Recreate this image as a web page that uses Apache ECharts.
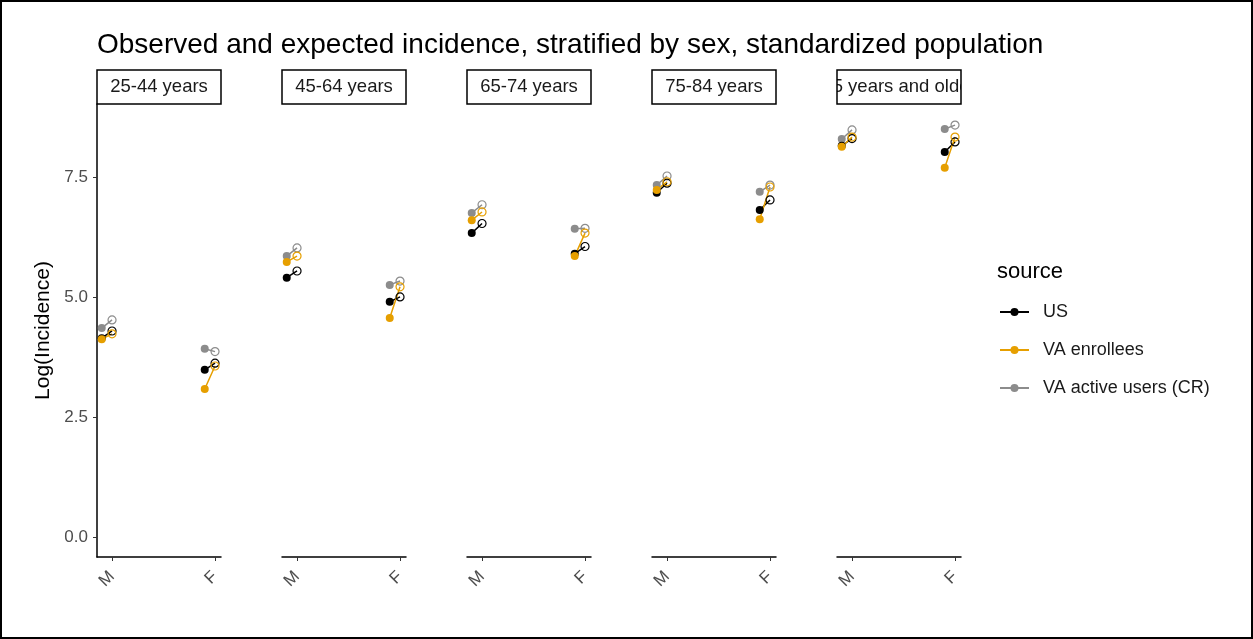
<!DOCTYPE html>
<html>
<head>
<meta charset="utf-8">
<script src="https://cdn.jsdelivr.net/npm/echarts@6/dist/echarts.min.js"></script>
<style>
  html, body { margin: 0; padding: 0; background: #fff; }
  #chart { width: 1253px; height: 639px; }
</style>
</head>
<body>
<div id="chart"></div>
<script>
// facets, x categories and sources
const ageGroups = ['25-44 years', '45-64 years', '65-74 years', '75-84 years', '85 years and older'];
const sexes = ['M', 'F'];
const sources = ['US', 'VA enrollees', 'VA active users (CR)'];
const sourceColors = ['#000000', '#E69F00', '#8c8c8c'];

// log incidence, per facet: M then F  (observed = filled, expected = open)
const usObserved = [4.14, 3.48, 5.40, 4.90, 6.33, 5.90, 7.17, 6.81, 8.15, 8.02];
const usExpected = [4.29, 3.62, 5.54, 5.00, 6.53, 6.05, 7.37, 7.02, 8.30, 8.23];
const vaObserved = [4.12, 3.08, 5.73, 4.56, 6.60, 5.85, 7.23, 6.62, 8.13, 7.69];
const vaExpected = [4.23, 3.56, 5.85, 5.21, 6.77, 6.33, 7.40, 7.29, 8.33, 8.33];
const crObserved = [4.35, 3.92, 5.85, 5.25, 6.75, 6.42, 7.33, 7.19, 8.29, 8.50];
const crExpected = [4.52, 3.86, 6.02, 5.33, 6.92, 6.43, 7.52, 7.33, 8.48, 8.58];

const yTicks = [0, 2.5, 5, 7.5];

const observed = [usObserved, vaObserved, crObserved];
const expected = [usExpected, vaExpected, crExpected];

const panelLeft = 97, panelPitch = 185, panelWidth = 124;
const panelTop = 104, panelHeight = 453;
const dodge = 0.1;

const chart = echarts.init(document.getElementById('chart'));

const grids = [], xAxes = [], yAxes = [], series = [], graphics = [];

ageGroups.forEach((age, p) => {
    const left = panelLeft + p * panelPitch;
    grids.push({ left: left, top: panelTop, width: panelWidth, height: panelHeight });
    xAxes.push({
        type: 'value',
        gridIndex: p,
        min: 0.854,
        max: 2.058,
        splitLine: { show: false },
        axisLine: { show: true, onZero: false, lineStyle: { color: '#000', width: 1.5 } },
        axisTick: { show: true, length: 4, lineStyle: { color: '#333' }, customValues: [1, 2] },
        axisLabel: {
            rotate: 45,
            margin: 17,
            color: '#4d4d4d',
            fontSize: 17,
            fontFamily: 'Liberation Sans',
            customValues: [1, 2],
            formatter: v => sexes[Math.round(v) - 1] || ''
        }
    });
    yAxes.push({
        type: 'value',
        gridIndex: p,
        min: -0.42,
        max: 9.02,
        show: p === 0,
        name: p === 0 ? 'Log(Incidence)' : '',
        nameLocation: 'middle',
        nameGap: 43,
        nameTextStyle: { fontSize: 21, color: '#000', fontFamily: 'Liberation Sans' },
        splitLine: { show: false },
        axisLine: { show: true, lineStyle: { color: '#000', width: 1.5 } },
        axisTick: { show: true, length: 4, lineStyle: { color: '#333' }, customValues: yTicks },
        axisLabel: {
            color: '#4d4d4d',
            fontSize: 17,
            margin: 9,
            fontFamily: 'Liberation Sans',
            customValues: yTicks,
            formatter: v => v.toFixed(1)
        }
    });

    // strip label
    graphics.push({
        type: 'text', z: 10,
        style: {
            x: left + panelWidth / 2, y: 87,
            text: age, align: 'center', verticalAlign: 'middle',
            fontSize: 18.5, fontFamily: 'Liberation Sans', fill: '#1a1a1a'
        }
    });
    graphics.push({ type: 'rect', z: 11, shape: { x: left - 40, y: 71, width: 40, height: 32 }, style: { fill: '#fff' } });
    graphics.push({ type: 'rect', z: 11, shape: { x: left + panelWidth, y: 71, width: 40, height: 32 }, style: { fill: '#fff' } });
    graphics.push({
        type: 'rect', z: 12,
        shape: { x: left, y: 70, width: panelWidth, height: 34 },
        style: { fill: 'none', stroke: '#000', lineWidth: 1.5 }
    });
});

// draw grey first, then black, then orange on top
[2, 0, 1].forEach(s => {
    const color = sourceColors[s];
    ageGroups.forEach((age, p) => {
        const data = [];
        sexes.forEach((sex, k) => {
            const i = p * 2 + k;
            const x = k + 1;
            if (k > 0) data.push([x - 0.5, '-']);
            data.push({ value: [x - dodge, observed[s][i]] });
            data.push({
                value: [x, expected[s][i]],
                itemStyle: { color: 'rgba(255,255,255,0)', borderColor: color, borderWidth: 1.2 }
            });
        });
        series.push({
            name: sources[s],
            type: 'line',
            xAxisIndex: p,
            yAxisIndex: p,
            data: data,
            symbol: 'circle',
            symbolSize: 8,
            showAllSymbol: true,
            connectNulls: false,
            animation: false,
            itemStyle: { color: color },
            lineStyle: { color: color, width: 1.5 }
        });
    });
});

graphics.push({
    type: 'text',
    style: { x: 997, y: 272, text: 'source', verticalAlign: 'middle', fontSize: 22, fontFamily: 'Liberation Sans', fill: '#000' }
});
graphics.push({
    type: 'rect', z: 20,
    shape: { x: 1, y: 1, width: 1251, height: 637 },
    style: { fill: 'none', stroke: '#000', lineWidth: 2 }
});

const option = {
    backgroundColor: '#fff',
    animation: false,
    title: {
        text: 'Observed and expected incidence, stratified by sex, standardized population',
        left: 92,
        top: 26,
        textStyle: { fontSize: 28, fontWeight: 'normal', color: '#000', fontFamily: 'Liberation Sans' }
    },
    legend: {
        data: sources,
        orient: 'vertical',
        left: 994,
        top: 298,
        itemWidth: 29,
        itemHeight: 10,
        itemGap: 20,
        textStyle: { fontSize: 18, color: '#1a1a1a', fontFamily: 'Liberation Sans', padding: [0, 0, 0, 9] },
        selectedMode: false
    },
    grid: grids,
    xAxis: xAxes,
    yAxis: yAxes,
    series: series,
    graphic: graphics
};

chart.setOption(option);
</script>
</body>
</html>
